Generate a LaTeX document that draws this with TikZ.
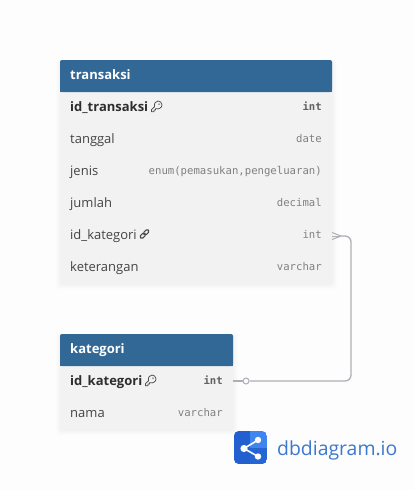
\documentclass[tikz,border=0pt]{standalone}
\usepackage{fontspec}
\setmainfont{Open Sans}
\newfontfamily\monof{DejaVu Sans Mono}
\usetikzlibrary{calc}
\definecolor{hdr}{HTML}{316896}
\definecolor{bodyc}{HTML}{F2F2F2}
\definecolor{namec}{HTML}{444444}
\definecolor{typec}{HTML}{808080}
\definecolor{linec}{HTML}{AFAEB5}
\definecolor{bgc}{HTML}{FDFDFD}
\definecolor{logod}{HTML}{2260CF}
\definecolor{logol}{HTML}{3F85F0}
\definecolor{logot}{HTML}{3B78D0}
\tikzset{
 x=1pt,y=-1pt,
 tablebody/.style={fill=bodyc,draw=none,rounded corners=2pt},
 softedge/.style={fill=black,fill opacity=0.009,draw=none,rounded corners=3pt},
 tablehead/.style={fill=hdr,draw=none,rounded corners=2pt},
 title/.style={anchor=base west,inner sep=0,text=white,font=\fontsize{13}{13}\selectfont\bfseries},
 fname/.style={anchor=base west,inner sep=0,text=namec,font=\fontsize{13}{13}\selectfont},
 fkey/.style={anchor=base west,inner sep=0,text=black!82,font=\fontsize{13}{13}\selectfont\bfseries},
 ftype/.style={anchor=base east,inner sep=0,text=typec,font=\monof\fontsize{10.65}{11}\selectfont},
 ftypekey/.style={anchor=base east,inner sep=0,text=black!62,font=\monof\fontsize{10.65}{11}\selectfont\bfseries},
 conn/.style={draw=linec,line width=1.3pt},
 iconl/.style={draw=black!70,line width=0.75pt,fill=none,line join=round}
}
\newcommand{\softshadow}[4]{%
 \foreach \d in {1,2,3,4,5}{
  \path[softedge] ({#1-\d+1},{#2}) rectangle ({#3+\d},{#4+\d});
 }}
\newcommand{\keyicon}[2]{%
 \begin{scope}[shift={(#1,#2)}]
  \draw[iconl] (3.6,6.2) -- (0.4,9.2) -- (0.4,11.2) -- (3,11.2) -- (3,9.6) -- (4.6,9.6) -- (4.6,8.2) -- (5.8,8.2)
    .. controls (7,9) and (11,7.6) .. (11,4.4)
    .. controls (11,2) and (9,0.5) .. (7,0.5)
    .. controls (4.6,0.5) and (2.8,3) .. (3.6,6.2) -- cycle;
  \fill[black!70] (8,3.6) circle (0.8);
 \end{scope}}
\newcommand{\linkicon}[2]{%
 \begin{scope}[shift={(#1,#2)}]
  \draw[iconl,line width=1.1pt,rotate around={45:(5.5,5.5)},rounded corners=1.5pt] (0,3.8) rectangle (6.2,7.2);
  \draw[iconl,line width=1.1pt,rotate around={45:(5.5,5.5)},rounded corners=1.5pt] (4.8,3.8) rectangle (11,7.2);
 \end{scope}}
\begin{document}
\begin{tikzpicture}
\useasboundingbox[fill=bgc] (0,0) rectangle (414,490);
% transaksi table
\softshadow{60}{60}{332}{284}
\path[tablebody] (60,60) rectangle (332,284);
\path[tablehead] (60,60) rectangle (332,92);
\path[fill=hdr] (60,80) rectangle (332,92);
\node[title] (t) at (70,79) {transaksi};
\node[fkey] (t1) at (70,111) {id\_transaksi};
\node[fname] (t2) at (70,143) {tanggal};
\node[fname] (t3) at (70,175) {jenis};
\node[fname] (t4) at (70,207) {jumlah};
\node[fname] (t5) at (70,239) {id\_kategori};
\node[fname] (t6) at (70,271) {keterangan};
\node[ftypekey] (ty1) at (322,110.5) {int};
\node[ftype] (ty2) at (322,142.5) {date};
\node[ftype] (ty3) at (322,174.5) {enum(pemasukan,pengeluaran)};
\node[ftype] (ty4) at (322,206.5) {decimal};
\node[ftype] (ty5) at (322,238.5) {int};
\node[ftype] (ty6) at (322,270.5) {varchar};
\keyicon{151}{100.5}
\linkicon{139}{228.5}
% kategori table
\softshadow{60}{334}{233}{430}
\path[tablebody] (60,334) rectangle (233,430);
\path[tablehead] (60,334) rectangle (233,366);
\path[fill=hdr] (60,354) rectangle (233,366);
\node[title] (k) at (70,353) {kategori};
\node[fkey] (k1) at (70,385) {id\_kategori};
\node[fname] (k2) at (70,417) {nama};
\node[ftypekey] (kt1) at (223,384.5) {int};
\node[ftype] (kt2) at (223,416.5) {varchar};
\keyicon{145}{374.5}
% connector
\coordinate (from) at (233,381);
\coordinate (to) at (332,236);
\coordinate (fork) at (341,236);
\node[circle,draw=linec,line width=1pt,fill=bgc,minimum size=6pt,inner sep=0] (one) at (246,381) {};
\draw[conn] (from) -- (one);
\draw[conn,rounded corners=6pt] (one) -- (351,381) -- (351,236) -- (fork);
\draw[conn,line width=1pt] (fork) -- (to);
\draw[conn,line width=1pt] (fork) -- (332,232.5) (fork) -- (332,239.5);
% logo
\begin{scope}
 \clip[rounded corners=5pt] (234,431) rectangle (267,464);
 \fill[logol] (234,431) rectangle (267,464);
 \fill[logod] (234,431) rectangle (250,464);
 \fill[logod!85!logol] (250,448) rectangle (267,464);
\end{scope}
\coordinate (la) at (244,448.5);
\coordinate (lb) at (258,440);
\coordinate (lc) at (258,456.5);
\draw[white,line width=1.6pt] (lb) -- (la) -- (lc);
\fill[white] (la) circle (3.6) (lb) circle (3.2) (lc) circle (3.2);
\node[anchor=base west,inner sep=0,text=logot,font=\fontsize{19.4}{21}\selectfont] (brand) at (277,455.5) {dbdiagram.io};
\end{tikzpicture}
\end{document}
